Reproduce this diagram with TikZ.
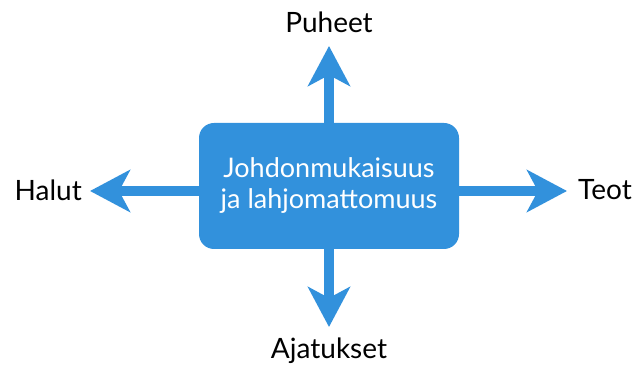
\documentclass[tikz,border=0pt]{standalone}
\usepackage{fontspec}
\setmainfont{Lato}
\usetikzlibrary{arrows.meta}
\definecolor{boxblue}{RGB}{50,145,220}

\begin{document}
\begin{tikzpicture}[x=1pt,y=-1pt]
		\useasboundingbox (0,0) rectangle (633,366);
		\tikzstyle{core}=[fill=boxblue,rounded corners=15pt,minimum width=260pt,minimum height=126pt,text=white,align=center,font=\fontsize{27}{31}\selectfont]
		\tikzstyle{label}=[font=\fontsize{28}{32}\selectfont,inner sep=0pt]
		\tikzstyle{dir}=[draw=boxblue,line width=10pt,-{Stealth[length=40pt,width=42pt,inset=11pt]}]
		\coordinate (t_up) at (329,46);
		\coordinate (t_down) at (329,327);
		\coordinate (t_left) at (90,191);
		\coordinate (t_right) at (567,191);
		\draw[dir] (329,191) -- (t_up);
		\draw[dir] (329,191) -- (t_down);
		\draw[dir] (329,191) -- (t_left);
		\draw[dir] (329,191) -- (t_right);
		\node[core] (g_core) at (329,186) {Johdonmukaisuus\\ja lahjomattomuus};
		\node[label] (g_puheet) at (329,22) {Puheet};
		\node[label] (g_ajatukset) at (329,351) {Ajatukset};
		\node[label,anchor=east] (g_halut) at (82,190) {Halut};
		\node[label,anchor=west] (g_teot) at (578,190) {Teot};
	\end{tikzpicture}
\end{document}
